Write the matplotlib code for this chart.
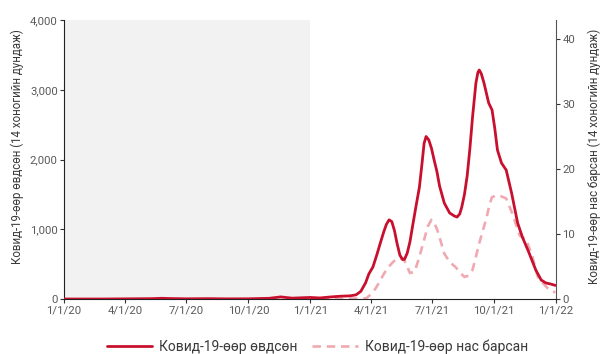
import matplotlib
matplotlib.use("Agg")
import matplotlib.pyplot as plt
import matplotlib.ticker as mticker
import pandas as pd

plt.rcParams['font.family'] = ['Roboto', 'DejaVu Sans']

case_dates = ["2020-01-01", "2020-03-01", "2020-05-10", "2020-05-25", "2020-06-10", "2020-07-01",
              "2020-08-01", "2020-09-01", "2020-10-01", "2020-11-01", "2020-11-18", "2020-12-05",
              "2020-12-20", "2021-01-01", "2021-01-15", "2021-02-01", "2021-02-15", "2021-03-01",
              "2021-03-10", "2021-03-17", "2021-03-24", "2021-03-29", "2021-04-04", "2021-04-10",
              "2021-04-15", "2021-04-20", "2021-04-24", "2021-04-28", "2021-05-02", "2021-05-06",
              "2021-05-10", "2021-05-14", "2021-05-18", "2021-05-21", "2021-05-25", "2021-05-29",
              "2021-06-02", "2021-06-07", "2021-06-12", "2021-06-16", "2021-06-19", "2021-06-22",
              "2021-06-26", "2021-06-30", "2021-07-04", "2021-07-08", "2021-07-12", "2021-07-19",
              "2021-07-27", "2021-08-03", "2021-08-07", "2021-08-11", "2021-08-14", "2021-08-18",
              "2021-08-22", "2021-08-26", "2021-08-30", "2021-09-04", "2021-09-07", "2021-09-09",
              "2021-09-12", "2021-09-16", "2021-09-23", "2021-09-28", "2021-10-02", "2021-10-06",
              "2021-10-12", "2021-10-19", "2021-10-27", "2021-11-05", "2021-11-12", "2021-11-22",
              "2021-12-02", "2021-12-10", "2021-12-17", "2021-12-24", "2021-12-31"]
case_values = [0, 0, 5, 10, 6, 3,
               5, 2, 3, 10, 30, 12,
               18, 22, 15, 30, 40, 45,
               60, 110, 230, 360, 459, 640,
               803, 960, 1070, 1135, 1110, 980,
               790, 630, 565, 570, 660, 820,
               1050, 1330, 1600, 1950, 2230, 2330,
               2280, 2160, 1990, 1830, 1620, 1376,
               1233, 1190, 1175, 1220, 1319, 1500,
               1763, 2150, 2609, 3097, 3250, 3283,
               3230, 3097, 2810, 2710, 2450, 2136,
               1950, 1849, 1520, 1090, 889, 660,
               415, 272, 230, 215, 195]

death_dates = ["2020-01-01", "2021-02-14", "2021-03-25", "2021-04-03", "2021-04-09", "2021-04-15",
               "2021-04-21", "2021-04-26", "2021-05-03", "2021-05-10", "2021-05-19", "2021-05-24",
               "2021-05-29", "2021-06-05", "2021-06-12", "2021-06-16", "2021-06-20", "2021-06-25",
               "2021-06-30", "2021-07-04", "2021-07-08", "2021-07-12", "2021-07-19", "2021-07-27",
               "2021-08-05", "2021-08-12", "2021-08-18", "2021-08-24", "2021-08-30", "2021-09-04",
               "2021-09-09", "2021-09-15", "2021-09-20", "2021-09-24", "2021-09-28", "2021-10-06",
               "2021-10-12", "2021-10-19", "2021-10-28", "2021-11-08", "2021-11-18", "2021-11-27",
               "2021-12-05", "2021-12-12", "2021-12-22", "2021-12-31"]
death_values = [0, 0, 0.1, 0.9, 1.8, 2.9,
                4.0, 4.8, 5.6, 6.3, 6.3, 5.2,
                4.0, 4.2, 6.5, 8.0, 9.5, 11.3,
                12.2, 11.8, 10.8, 9.5, 7.0, 5.7,
                4.9, 4.0, 3.4, 3.6, 4.5, 6.5,
                8.6, 10.8, 12.6, 14.5, 15.7, 16.0,
                15.8, 15.5, 13.2, 9.8, 9.1, 6.5,
                3.4, 2.5, 1.4, 1.0]

x_tick_dates = ["2020-01-01", "2020-04-01", "2020-07-01", "2020-10-01", "2021-01-01",
                "2021-04-01", "2021-07-01", "2021-10-01", "2022-01-01"]
x_tick_labels = ["1/1/20", "4/1/20", "7/1/20", "10/1/20", "1/1/21",
                 "4/1/21", "7/1/21", "10/1/21", "1/1/22"]
left_ticks = [0, 1000, 2000, 3000, 4000]
right_ticks = [0, 10, 20, 30, 40]

series_labels = ["Ковид-19-өөр өвдсөн", "Ковид-19-өөр нас барсан"]
left_ylabel = "Ковид-19-өөр өвдсөн (14 хоногийн дундаж)"
right_ylabel = "Ковид-19-өөр нас барсан (14 хоногийн дундаж)"

RED = "#c8102e"
PINK = "#f0a9b1"
TXT = "#5a5a5a"
LAB = "#3a3a3a"

fig = plt.figure(figsize=(6.02, 3.54), dpi=100)
ax = fig.add_axes([64/602, 55/354, 492/602, 279/354])
ax2 = ax.twinx()

x0 = pd.Timestamp("2020-01-01")
x1 = pd.Timestamp("2022-01-01")
ax.axvspan(x0, pd.Timestamp("2021-01-01"), color="#f1f2f1", zorder=0, lw=0)

l1, = ax.plot(pd.to_datetime(case_dates), case_values, color=RED, lw=2.0, zorder=5,
              solid_capstyle='round', solid_joinstyle='round')
l2, = ax2.plot(pd.to_datetime(death_dates), death_values, color=PINK, lw=1.9,
               dashes=(3.2, 2.2), zorder=3)
ax.set_zorder(ax2.get_zorder() + 1)
ax.patch.set_visible(False)
ax2.patch.set_visible(False)

ax.set_xlim(x0, x1)
ax.set_ylim(0, 4000)
ax2.set_ylim(0, 43)

ax.set_xticks(pd.to_datetime(x_tick_dates))
ax.set_xticklabels(x_tick_labels)
ax.set_yticks(left_ticks)
ax.yaxis.set_major_formatter(mticker.FuncFormatter(lambda v, p: f"{int(v):,}"))
ax2.set_yticks(right_ticks)

for a in (ax, ax2):
    a.spines['top'].set_visible(False)
    a.tick_params(colors="#333333", labelcolor=TXT, labelsize=8.2, length=3, width=0.8, pad=1.5)
ax.spines['left'].set_color("#222222")
ax.spines['bottom'].set_color("#222222")
ax.spines['right'].set_visible(False)
ax2.spines['left'].set_visible(False)
ax2.spines['bottom'].set_visible(False)
ax2.spines['right'].set_color("#555555")

ax.set_ylabel(left_ylabel, fontsize=8.3, color=LAB)
ax.yaxis.set_label_coords(-40/492, 0.545)
ax2.set_ylabel(right_ylabel, fontsize=8.3, color=LAB, rotation=90)
ax2.yaxis.set_label_coords(1 + 32/492, 0.51)

leg = fig.legend([l1, l2], series_labels, loc="center", bbox_to_anchor=(317.5/602, 7/354),
                 ncol=2, frameon=False, fontsize=10.0, handlelength=3.25, handletextpad=0.55,
                 columnspacing=1.05, labelcolor=LAB)

fig.savefig("out.png", dpi=100)
